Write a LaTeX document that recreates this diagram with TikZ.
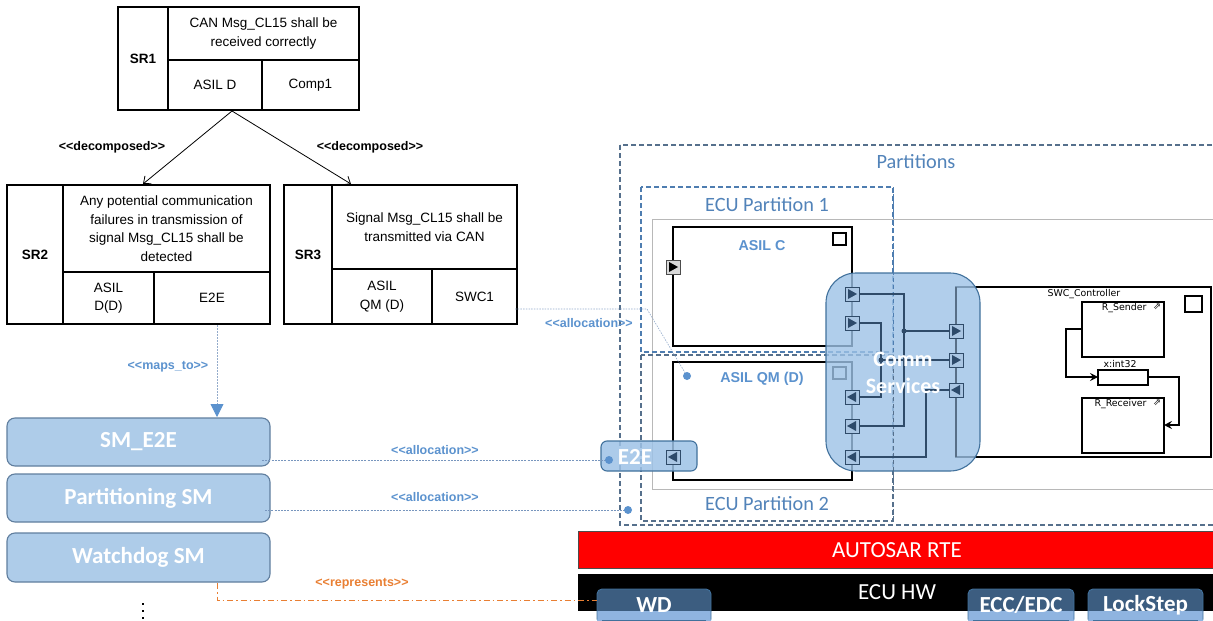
\documentclass[tikz,border=0pt]{standalone}
\usepackage{fontspec}
\setmainfont{Liberation Sans}
\newfontfamily\calfont{Carlito}
\newfontfamily\djfont{DejaVu Sans}
\usetikzlibrary{arrows.meta}
\definecolor{lblue}{RGB}{91,146,206}
\definecolor{smfill}{RGB}{174,204,233}
\definecolor{smdraw}{RGB}{96,126,158}
\definecolor{pdash}{RGB}{86,112,140}
\definecolor{p1dash}{RGB}{78,125,176}
\definecolor{commfill}{RGB}{157,194,230}
\definecolor{commdraw}{RGB}{65,113,156}
\definecolor{wire}{RGB}{47,75,105}
\definecolor{portfill}{RGB}{170,198,227}
\definecolor{porttri}{RGB}{45,74,106}
\definecolor{orangec}{RGB}{233,127,51}
\definecolor{hwdark}{RGB}{60,93,128}
\definecolor{hwlight}{RGB}{143,180,224}
\definecolor{linkc}{RGB}{120,150,190}
\begin{document}
\begin{tikzpicture}[x=1pt,y=-1pt,
  cell/.style={draw, line width=1.6pt, align=center, inner sep=2pt, font=\fontsize{13.5}{18.5}\selectfont},
  stereo/.style={font=\bfseries\fontsize{12.5}{14}\selectfont},
  smbox/.style={draw=smdraw, fill=smfill, line width=1.1pt, rounded corners=8pt, text=white, font=\calfont\bfseries\fontsize{23}{26}\selectfont, minimum width=263pt},
  plabel/.style={text=lblue!90!black, font=\calfont\fontsize{20.3}{24}\selectfont},
  asil/.style={text=lblue, font=\bfseries\fontsize{14.3}{16}\selectfont},
  swcbox/.style={draw, line width=1.5pt, fill=white},
  hwbox/.style={text=white, font=\calfont\bfseries\fontsize{23}{26}\selectfont},
  barlabel/.style={text=white, font=\calfont\fontsize{23}{26}\selectfont},
  small/.style={font=\djfont\fontsize{9.4}{11}\selectfont},
  portr/.pic={\draw[draw=wire, fill=portfill, line width=0.9pt] (-7,-7) rectangle (7,7);
              \fill[porttri] (-4,-5) -- (5,0) -- (-4,5) -- cycle;},
  portl/.pic={\draw[draw=wire, fill=portfill, line width=0.9pt] (-7,-7) rectangle (7,7);
              \fill[porttri] (4,-5) -- (-5,0) -- (4,5) -- cycle;},
  portb/.pic={\draw[draw=black!70, fill=black!15, line width=0.9pt] (-7,-7) rectangle (7,7);
              \fill[black] (-4,-5) -- (5,0) -- (-4,5) -- cycle;},
  alloc/.style={draw=linkc, line width=0.6pt, dash pattern=on 2pt off 1.2pt},
]
\useasboundingbox (0,0) rectangle (1213,621);

% ---------------- SR1
\node[cell, minimum width=50pt, minimum height=103pt] (sr1) at (143,58.5) {\textbf{SR1}};
\node[cell, minimum width=191pt, minimum height=53pt] (sr1t) at (263.5,33.5) {CAN Msg\_CL15 shall be\\received correctly};
\node[cell, minimum width=94pt, minimum height=50pt] (sr1a) at (215,85) {ASIL D};
\node[cell, minimum width=97pt, minimum height=50pt] (sr1c) at (310.5,85) {Comp1};

% ---------------- SR2
\node[cell, minimum width=56pt, minimum height=139pt] (sr2) at (35,254.5) {\textbf{SR2}};
\node[cell, minimum width=207pt, minimum height=87pt] (sr2t) at (166.5,228.5) {Any potential communication\\failures in transmission of\\signal Msg\_CL15 shall be\\detected};
\node[cell, minimum width=91pt, minimum height=52pt] (sr2a) at (108.5,298) {ASIL\\D(D)};
\node[cell, minimum width=116pt, minimum height=52pt] (sr2c) at (212,298) {E2E};

% ---------------- SR3
\node[cell, minimum width=48pt, minimum height=139pt] (sr3) at (308,254.5) {\textbf{SR3}};
\node[cell, minimum width=185pt, minimum height=84pt] (sr3t) at (424.5,227) {Signal Msg\_CL15 shall be\\transmitted via CAN};
\node[cell, minimum width=100pt, minimum height=55pt] (sr3a) at (382,296.5) {ASIL\\QM (D)};
\node[cell, minimum width=85pt, minimum height=55pt] (sr3c) at (474.5,296.5) {SWC1};

% decomposition arrows
\coordinate (d0) at (232,111);
\coordinate (d1) at (143,184);
\coordinate (d2) at (351,184);
\draw[line width=0.8pt, -{Straight Barb[length=6pt,width=10pt]}] (d0) -- (d1);
\draw[line width=0.8pt, -{Straight Barb[length=6pt,width=10pt]}] (d0) -- (d2);
\node[stereo] (dl1) at (112,147) {<{}<decomposed>{}>};
\node[stereo] (dl2) at (370,147) {<{}<decomposed>{}>};

% ---------------- SM boxes
\node[smbox, minimum height=48pt] (sme2e) at (138.5,442) {SM\_E2E};
\node[smbox, minimum height=48pt] (smpart) at (138.5,498) {Partitioning SM};
\node[smbox, minimum height=49pt] (smwd) at (138.5,557.5) {Watchdog SM};

% maps_to
\coordinate (m0) at (217,325);
\coordinate (m1) at (217,417);
\draw[draw=linkc!80, line width=0.8pt, dash pattern=on 1.5pt off 1.5pt, -{Triangle[length=13pt,width=13pt,color=lblue]}] (m0) -- (m1);
\node[stereo, text=lblue] (mapl) at (168,367) {<{}<maps\_to>{}>};

% vertical dots
\fill (141.8,602.5) rectangle (144.2,605);
\fill (141.8,609.5) rectangle (144.2,612);
\fill (141.8,616.5) rectangle (144.2,619);

% ---------------- right side: partitions
\draw[black!28, line width=0.9pt] (652,219) rectangle (1220,489);
\draw[pdash, line width=1.3pt, dash pattern=on 5pt off 3pt] (620,145) rectangle (1220,525);
\node[plabel] (partl) at (916,162) {Partitions};
\draw[p1dash, line width=1.2pt, dash pattern=on 5pt off 3pt] (641,187) rectangle (893,352);
\node[plabel] (p1l) at (767,205) {ECU Partition 1};
\draw[pdash, line width=1.2pt, dash pattern=on 5pt off 3pt] (641,355) rectangle (893,521);
\node[plabel] (p2l) at (767,504) {ECU Partition 2};

% ASIL C component
\draw[swcbox] (673,227) rectangle (852,346);
\node[asil] (asilc) at (762,246) {ASIL C};
\draw[line width=1.2pt] (833,233) rectangle (846,245);
\pic at (673,267) {portb};

% ASIL QM component
\draw[swcbox] (673,362) rectangle (852,480);
\node[asil] (asilqm) at (762,379) {ASIL QM (D)};
\draw[line width=1.2pt] (833,367) rectangle (846,379);

% SWC_Controller
\draw[swcbox] (956,287) rectangle (1211,457);
\node[small, anchor=west] (swcl) at (1044,294) {SWC\_Controller};
\draw[line width=1.2pt] (1185,296) rectangle (1202,312);
\draw[line width=1.3pt] (1082,302) rectangle (1164,357);
\node[small, anchor=east] (rsend) at (1150,308) {R\_Sender};
\node[small] (rsi) at (1157,307) {⇗};
\draw[line width=1.3pt] (1098,370) rectangle (1148,385);
\node[small] (xint) at (1120,364) {x:int32};
\draw[line width=1.3pt] (1082,398) rectangle (1164,453);
\node[small, anchor=east] (rrec) at (1150,404) {R\_Receiver};
\node[small] (rri) at (1157,403) {⇗};
\coordinate (w1a) at (1082,329);
\coordinate (w1b) at (1098,377);
\coordinate (w2a) at (1148,377);
\coordinate (w2b) at (1164,425);
\draw[line width=1.2pt, -{Stealth[length=8pt,width=8pt,inset=3pt]}] (w1a) -- (1066,329) -- (1066,377) -- (w1b);
\draw[line width=1.2pt, -{Stealth[length=8pt,width=8pt,inset=3pt]}] (w2a) -- (1179,377) -- (1179,425) -- (w2b);

% Comm Services
\fill[commfill, fill opacity=0.8] (826,273) [rounded corners=30pt] rectangle (980,471);
\draw[commdraw, line width=1.1pt, rounded corners=30pt] (826,273) rectangle (980,471);
\draw[wire!80, line width=1.2pt] (956,287) -- (956,457);
\draw[p1dash, line width=1pt, dash pattern=on 4pt off 3pt] (893,187) -- (893,352);
\draw[pdash, line width=1pt, dash pattern=on 4pt off 3pt] (893,355) -- (893,521);

% wires
\draw[wire, line width=1.3pt] (852,294) -- (904,294) -- (904,426) -- (852,426);
\draw[wire, line width=1.3pt] (904,331) -- (956,331);
\draw[wire, line width=1.3pt] (852,323) -- (881,323) -- (881,397) -- (852,397);
\draw[wire, line width=1.3pt] (881,360) -- (956,360);
\draw[wire, line width=1.3pt] (852,457) -- (926,457) -- (926,390) -- (956,390);
\fill[wire] (904,331) circle (2.5pt);
\fill[wire] (881,360) circle (2.5pt);
\pic at (852,294) {portr};
\pic at (852,323) {portr};
\pic at (852,397) {portl};
\pic at (852,426) {portl};
\pic at (852,457) {portl};
\pic at (956,331) {portr};
\pic at (956,360) {portr};
\pic at (956,390) {portl};
\node[text=white, font=\calfont\bfseries\fontsize{22}{27}\selectfont, align=center] (comm) at (903,373) {Comm\\Services};

% E2E box
\fill[commfill, fill opacity=0.85, rounded corners=6pt] (601,441) rectangle (697,471);
\draw[commdraw, line width=1.1pt, rounded corners=6pt] (601,441) rectangle (697,471);
\node[text=white, font=\calfont\bfseries\fontsize{23}{26}\selectfont] (e2e) at (635,457) {E2E};
\pic at (673,457) {portl};

% allocations
\coordinate (a1s) at (262,460);
\coordinate (a1e) at (609,460);
\draw[alloc] (a1s) -- (a1e);
\fill[lblue] (a1e) circle (4pt);
\node[stereo, text=lblue] (al1) at (435,450) {<{}<allocation>{}>};
\coordinate (a2s) at (265,510);
\coordinate (a2e) at (628,510);
\draw[alloc] (a2s) -- (a2e);
\fill[lblue] (a2e) circle (4pt);
\node[stereo, text=lblue] (al2) at (435,497) {<{}<allocation>{}>};
\coordinate (a3s) at (515,309);
\coordinate (a3e) at (687,376);
\draw[draw=linkc!80, line width=0.6pt, dash pattern=on 1.5pt off 1.2pt] (a3s) -- (647,309) -- (a3e);
\fill[lblue] (a3e) circle (4pt);
\node[stereo, text=lblue] (al3) at (589,323) {<{}<allocation>{}>};

% RTE and HW
\node[draw=black!70, fill=red, line width=0.8pt, minimum width=642pt, minimum height=37pt, anchor=north west, inner sep=0pt] (rte) at (578,531) {};
\node[barlabel] (rtel) at (897,550) {AUTOSAR RTE};
\node[fill=black, minimum width=642pt, minimum height=37pt, anchor=north west, inner sep=0pt] (hw) at (578,574) {};
\node[barlabel] (hwl) at (897,592) {ECU HW};

% HW boxes
\foreach \xa/\xb in {597/711, 968/1074, 1088/1203}{
  \begin{scope}
    \clip (\xa-1,588) rectangle (\xb+1,611);
    \fill[hwdark, rounded corners=5pt] (\xa,589) rectangle (\xb,630);
  \end{scope}
  \begin{scope}
    \clip (\xa-1,611) rectangle (\xb+1,625);
    \fill[hwlight, rounded corners=5pt] (\xa,589) rectangle (\xb,630);
  \end{scope}
  \draw[commdraw, line width=0.9pt, rounded corners=5pt] (\xa,619.5) -- (\xa,589) -- (\xb,589) -- (\xb,619.5);
  \draw[commdraw, line width=0.9pt] (\xa+5,620) -- (\xb-5,620);
}
\node[hwbox] (wd) at (654,605) {WD};
\node[hwbox] (ecc) at (1021,605) {ECC/EDC};
\node[hwbox] (lock) at (1145.5,605) {LockStep};

% represents
\coordinate (r0) at (217,583);
\coordinate (r1) at (597,600);
\draw[orangec, line width=1pt, dash pattern=on 6pt off 3pt on 1.5pt off 3pt] (r0) -- (217,600) -- (r1);
\node[stereo, text=orangec] (repl) at (362,584) {<{}<represents>{}>};
\end{tikzpicture}
\end{document}
